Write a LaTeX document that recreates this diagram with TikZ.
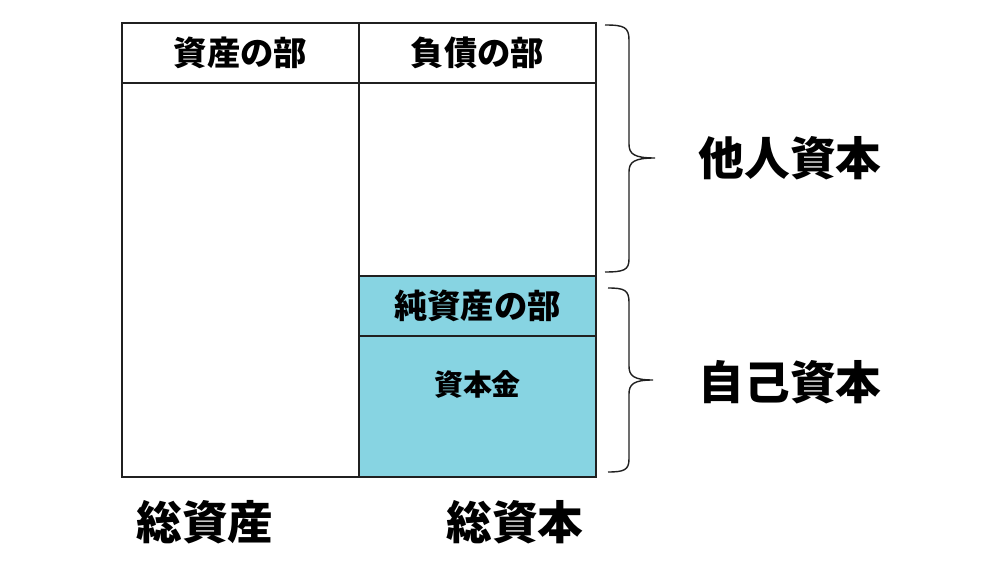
\documentclass[tikz,border=0pt]{standalone}
\usepackage{fontspec}
\newfontfamily\jp{Noto Sans CJK JP}
\definecolor{eqblue}{HTML}{87D4E2}
\definecolor{lineblk}{HTML}{202020}
\begin{document}
\begin{tikzpicture}[x=0.02cm,y=-0.02cm,
  cell/.style={draw=lineblk,line width=0.9pt,anchor=north west,inner sep=0pt,outer sep=0pt},
  head/.style={font=\jp\bfseries\fontsize{19}{22}\selectfont},
  small/.style={font=\jp\bfseries\fontsize{16.5}{20}\selectfont},
  big/.style={font=\jp\bfseries\fontsize{26}{30}\selectfont},
  brc/.style={draw=lineblk,line width=0.8pt}
]
\useasboundingbox (0,0) rectangle (1002,564);
\fill[white] (0,0) rectangle (1002,564);
% cells
\node[cell,minimum width=4.74cm,minimum height=1.2cm] (ah) at (122,23) {};
\node[cell,minimum width=4.74cm,minimum height=7.88cm] (ab) at (122,83) {};
\node[cell,minimum width=4.74cm,minimum height=1.2cm] (lh) at (359,23) {};
\node[cell,minimum width=4.74cm,minimum height=3.86cm] (lb) at (359,83) {};
\node[cell,fill=eqblue,minimum width=4.74cm,minimum height=1.2cm] (eh) at (359,276) {};
\node[cell,fill=eqblue,minimum width=4.74cm,minimum height=2.82cm] (cap) at (359,336) {};
% texts
\node[head] (tah) at (ah.center) {資産の部};
\node[head] (tlh) at (lh.center) {負債の部};
\node[head] (teh) at (eh.center) {純資産の部};
\node[small] (tcap) at (477.5,384) {資本金};
% braces
\draw[brc] (605,25) .. controls (624,25) and (629,27) .. (629,40)
  -- (629,144) .. controls (629,154) and (634,158) .. (655,158)
  .. controls (634,158) and (629,162) .. (629,172)
  -- (629,259) .. controls (629,270) and (624,272) .. (605,272);
\draw[brc] (608,288) .. controls (624,288) and (629,290) .. (629,302)
  -- (629,366) .. controls (629,376) and (634,380) .. (653,380)
  .. controls (634,380) and (629,384) .. (629,394)
  -- (629,459) .. controls (629,470) and (624,472) .. (608,472);
\node[big] (other) at (790,158) {他人資本};
\node[big] (own) at (790,382) {自己資本};
\node[big] (ta) at (205,522) {総資産};
\node[big] (tc) at (515,522) {総資本};
\end{tikzpicture}
\end{document}
